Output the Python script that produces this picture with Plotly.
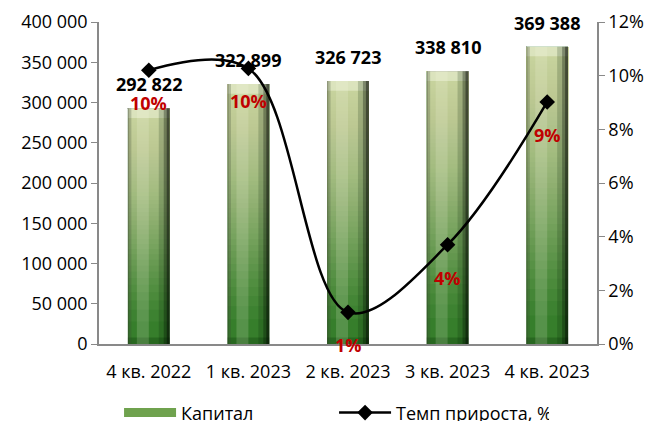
import plotly.graph_objects as go

categories = ["4 кв. 2022", "1 кв. 2023", "2 кв. 2023", "3 кв. 2023", "4 кв. 2023"]
capital = [292822, 322899, 326723, 338810, 369388]
growth = [0.102, 0.1027, 0.0118, 0.037, 0.0902]
growth_labels = ["10%", "10%", "1%", "4%", "9%"]

FONT = "Open Sans"
BW = 0.42
fig = go.Figure()

# base bar
fig.add_trace(go.Bar(x=categories, y=capital, name="Капитал", width=BW,
                     marker=dict(color="#2f7a25", line=dict(width=0)),
                     showlegend=False, hoverinfo="skip"))

# vertical light gradient layers (style only)
N = 50
fracs = [(k / N) ** 0.6 for k in range(N)]
for f in fracs:
    fig.add_trace(go.Bar(x=categories, y=[v * (1 - f) for v in capital],
                         base=[v * f for v in capital], width=BW,
                         marker=dict(color="rgba(232,242,196,0.045)", line=dict(width=0)),
                         showlegend=False, hoverinfo="skip"))

# top bevel highlight (style only)
fig.add_trace(go.Bar(x=categories, y=[12000] * len(capital),
                     base=[v - 12000 for v in capital], width=BW,
                     marker=dict(color="rgba(248,252,236,0.4)", line=dict(width=0)),
                     showlegend=False, hoverinfo="skip"))

# bottom bevel darkening (style only)
fig.add_trace(go.Bar(x=categories, y=[8000] * len(capital), width=BW,
                     marker=dict(color="rgba(0,40,0,0.25)", line=dict(width=0)),
                     showlegend=False, hoverinfo="skip"))

# horizontal shading layers (style only)
shades = [
    (-0.12, 0.12, "rgba(255,255,235,0.16)"),
    (-0.21, 0.035, "rgba(60,70,50,0.25)"),
    (-0.21, 0.012, "rgba(40,40,30,0.25)"),
    (0.10, 0.11, "rgba(0,30,0,0.18)"),
    (0.15, 0.06, "rgba(0,10,0,0.3)"),
    (0.18, 0.03, "rgba(0,0,0,0.4)"),
]
for off, w, col in shades:
    fig.add_trace(go.Bar(x=categories, y=capital, width=w, offset=off,
                         marker=dict(color=col, line=dict(width=0)),
                         showlegend=False, hoverinfo="skip"))

# legend entry for the bars (wide rectangle symbol)
fig.add_trace(go.Scatter(x=[None], y=[None], mode="lines", name="Капитал",
                         line=dict(color="#6fa24e", width=9), hoverinfo="skip"))

fig.add_trace(go.Scatter(x=categories, y=growth, yaxis="y2", name="Темп прироста, %",
                         mode="lines+markers",
                         line=dict(color="black", width=2.5, shape="spline", smoothing=1.0),
                         marker=dict(symbol="diamond", size=12, color="black"),
                         hoverinfo="skip"))

annotations = []
for c, v in zip(categories, capital):
    annotations.append(dict(x=c, y=v, xref="x", yref="y", text=f"{v:,}".replace(",", " "),
                            showarrow=False, yshift=24,
                            font=dict(family=FONT, size=18, color="black", weight="bold")))
for c, g, t in zip(categories, growth, growth_labels):
    annotations.append(dict(x=c, y=g, xref="x", yref="y2", text=t,
                            showarrow=False, yshift=-33,
                            font=dict(family=FONT, size=18, color="#c00000", weight="bold")))

axis_col = "#898989"
fig.update_layout(
    width=648, height=413,
    margin=dict(l=91, r=59, t=14, b=77, autoexpand=False),
    paper_bgcolor="white", plot_bgcolor="white",
    barmode="overlay",
    separators=", ",
    font=dict(family=FONT, size=18, color="black"),
    xaxis=dict(type="category", range=[-0.5, 4.5], showline=True, linecolor=axis_col,
               linewidth=1.5, ticks="", showgrid=False, automargin=False,
               ticklabelstandoff=11, tickfont=dict(family=FONT, size=18)),
    yaxis=dict(range=[0, 400000], dtick=50000, tickformat=",", showline=True,
               linecolor=axis_col, linewidth=1.5, ticks="outside", ticklen=6,
               tickcolor=axis_col, showgrid=False, zeroline=False, automargin=False,
               tickfont=dict(family=FONT, size=18)),
    yaxis2=dict(range=[0, 0.12], dtick=0.02, tickformat=".0%", overlaying="y",
                side="right", showline=True, linecolor=axis_col, linewidth=1.5,
                ticks="outside", ticklen=6, tickcolor=axis_col, showgrid=False,
                zeroline=False, automargin=False, tickfont=dict(family=FONT, size=18)),
    legend=dict(orientation="h", x=0.472, xanchor="center", y=-0.214, yanchor="middle",
                font=dict(family=FONT, size=18), entrywidth=148, itemwidth=52,
                traceorder="normal"),
    annotations=annotations,
)

fig.write_html("out.html")
